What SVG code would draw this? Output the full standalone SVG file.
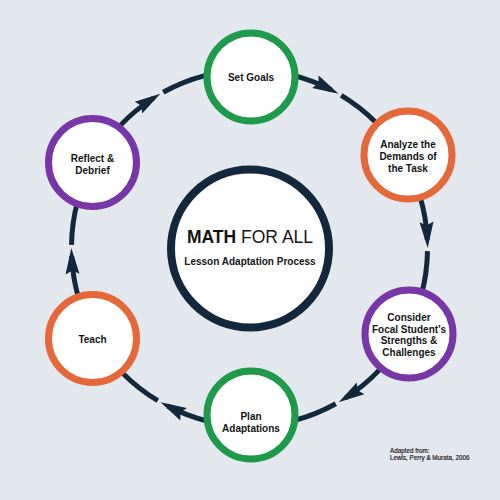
<svg xmlns="http://www.w3.org/2000/svg" width="500" height="500" viewBox="0 0 500 500">
<style>
.ring{fill:none;stroke:#13283d;stroke-width:5}
.node{fill:#fff;stroke-width:7}
.g{stroke:#1f9a4b}.o{stroke:#e4683a}.p{stroke:#7836a6}
.t{font-family:"Liberation Sans",Arial,sans-serif;font-weight:bold;font-size:10px;fill:#141414;text-anchor:middle}
.ft{font-family:"Liberation Sans",Arial,sans-serif;font-size:6.3px;fill:#141414;stroke:#141414;stroke-width:0.15}
</style>
<defs>
<marker id="ah" markerUnits="userSpaceOnUse" viewBox="-28 -9 31 18" markerWidth="31" markerHeight="18" refX="-8" refY="0" orient="auto">
<path d="M0,0 L-26,-7 L-22.5,0 L-26,7 Z" fill="#13283d"/>
</marker>
</defs>
<rect width="500" height="500" fill="#e2e8ee"/>
<g id="connectors">
<path class="ring" marker-end="url(#ah)" d="M163.2,92.3 A178,178 0 0 1 331.4,90.0"/>
<path class="ring" marker-end="url(#ah)" d="M341.2,95.4 A178,178 0 0 1 427.3,239.9"/>
<path class="ring" marker-end="url(#ah)" d="M427.5,251.1 A178,178 0 0 1 345.4,398.0"/>
<path class="ring" marker-end="url(#ah)" d="M335.8,403.7 A178,178 0 0 1 167.6,406.0"/>
<path class="ring" marker-end="url(#ah)" d="M157.8,400.6 A178,178 0 0 1 71.7,256.1"/>
<path class="ring" marker-end="url(#ah)" d="M71.5,244.9 A178,178 0 0 1 153.6,98.0"/>
</g>
<g id="center">
<circle cx="250" cy="248.5" r="79" fill="#fff" stroke="#13283d" stroke-width="8"/>
<text x="250" y="243" text-anchor="middle" font-family="Liberation Sans,Arial,sans-serif" font-size="17.5" fill="#141414"><tspan font-weight="bold">MATH</tspan> FOR ALL</text>
<text x="250" y="264.5" class="t" font-size="10.3">Lesson Adaptation Process</text>
</g>
<g id="set-goals">
<circle cx="251" cy="77" r="44" class="node g"/>
<text x="251" y="80.5" class="t">Set Goals</text>
</g>
<g id="analyze">
<circle cx="408" cy="155" r="44" class="node o"/>
<text class="t"><tspan x="408" y="147.5">Analyze the</tspan><tspan x="408" y="159.5">Demands of</tspan><tspan x="408" y="171.5">the Task</tspan></text>
</g>
<g id="consider">
<circle cx="409" cy="334" r="44" class="node p"/>
<text class="t"><tspan x="409" y="321">Consider</tspan><tspan x="409" y="332.5">Focal Student’s</tspan><tspan x="409" y="344">Strengths &amp;</tspan><tspan x="409" y="355.5">Challenges</tspan></text>
</g>
<g id="plan">
<circle cx="251" cy="415" r="44" class="node g"/>
<text class="t"><tspan x="251" y="420">Plan</tspan><tspan x="251" y="432">Adaptations</tspan></text>
</g>
<g id="teach">
<circle cx="92.5" cy="338.5" r="44" class="node o"/>
<text x="92.5" y="342.5" class="t">Teach</text>
</g>
<g id="reflect">
<circle cx="92.5" cy="162.5" r="44" class="node p"/>
<text class="t"><tspan x="92.5" y="161.5">Reflect &amp;</tspan><tspan x="92.5" y="173.5">Debrief</tspan></text>
</g>
<g id="credit">
<text class="ft"><tspan x="390" y="453">Adapted from:</tspan><tspan x="390" y="460">Lewis, Perry &amp; Murata, 2006</tspan></text>
</g>
</svg>
